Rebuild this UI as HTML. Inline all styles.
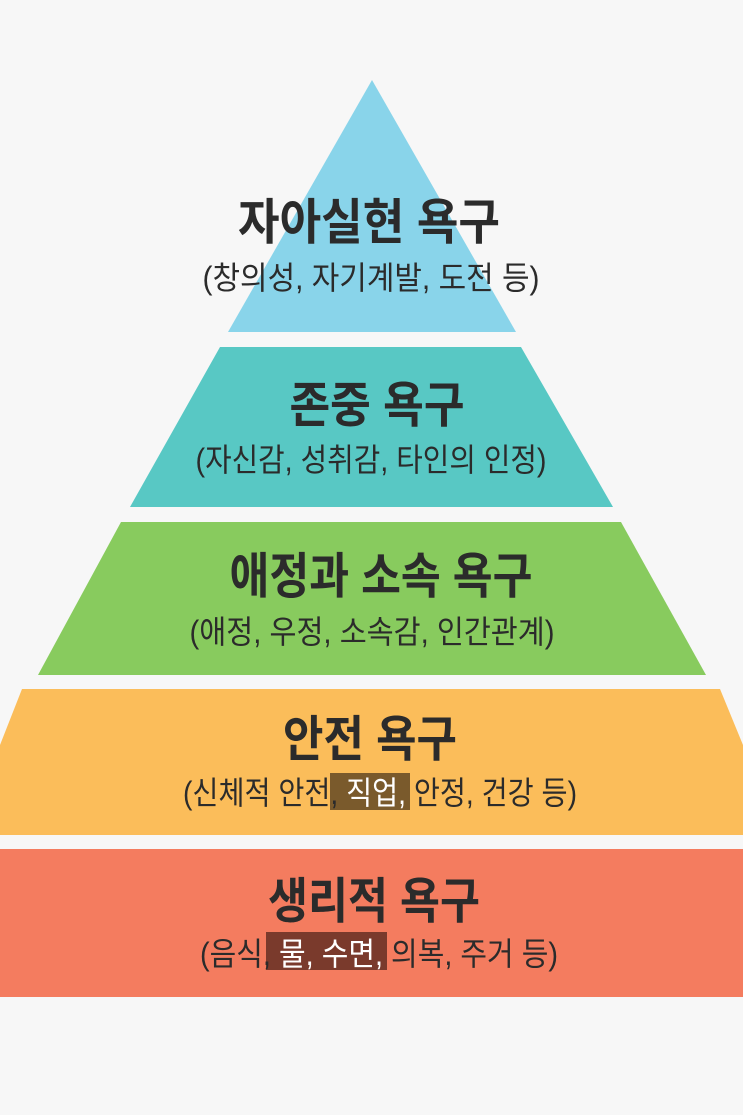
<!DOCTYPE html>
<html><head><meta charset="utf-8"><style>
html,body{margin:0;padding:0;background:#f7f7f7;}
svg{display:block}
text{font-family:"Liberation Sans","Noto Sans CJK KR",sans-serif;fill:#2b2b2b;text-anchor:middle}
.t{font-size:49px;font-weight:bold}
.s{font-size:32px}
</style></head><body>
<svg width="743" height="1115" viewBox="0 0 743 1115">
<rect width="743" height="1115" fill="#f7f7f7"/>
<polygon points="372,80 516,332 228,332" fill="#89d4ea"/>
<polygon points="220,347 521,347 613,507 130,507" fill="#58c8c4"/>
<polygon points="121,522 621,522 706,675 38,675" fill="#88cb5e"/>
<polygon points="22,689 720,689 743,745 743,835 0,835 0,745" fill="#fbbd5a"/>
<rect x="0" y="849" width="743" height="148" fill="#f47c5f"/>
<rect x="330" y="773" width="80" height="37" fill="#7a5a2c"/>
<rect x="266" y="932" width="121" height="38" fill="#7a3a2c"/>
<text class="t" x="369" y="239" textLength="262" lengthAdjust="spacingAndGlyphs">자아실현 욕구</text>
<text class="s" x="371" y="289" textLength="337" lengthAdjust="spacingAndGlyphs">(창의성, 자기계발, 도전 등)</text>
<text class="t" x="377" y="422" textLength="175" lengthAdjust="spacingAndGlyphs">존중 욕구</text>
<text class="s" x="371" y="471" textLength="351" lengthAdjust="spacingAndGlyphs">(자신감, 성취감, 타인의 인정)</text>
<text class="t" x="381" y="593" textLength="303" lengthAdjust="spacingAndGlyphs">애정과 소속 욕구</text>
<text class="s" x="372" y="643" textLength="365" lengthAdjust="spacingAndGlyphs">(애정, 우정, 소속감, 인간관계)</text>
<text class="t" x="370" y="756" textLength="174" lengthAdjust="spacingAndGlyphs">안전 욕구</text>
<text class="s" x="380" y="804" textLength="394" lengthAdjust="spacingAndGlyphs">(신체적 안전, <tspan fill="#fff">직업,</tspan> 안정, 건강 등)</text>
<text class="t" x="374" y="918" textLength="212" lengthAdjust="spacingAndGlyphs">생리적 욕구</text>
<text class="s" x="379" y="965" textLength="358" lengthAdjust="spacingAndGlyphs">(음식, <tspan fill="#fff">물, 수면,</tspan> 의복, 주거 등)</text>
</svg>
</body></html>
